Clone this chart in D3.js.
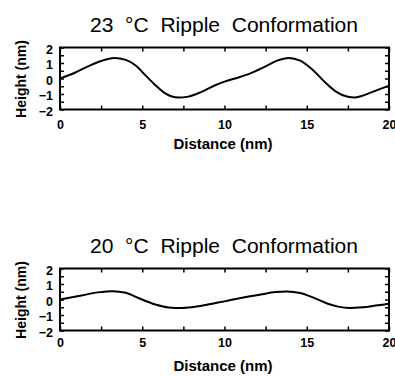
<!DOCTYPE html>
<html>
<head>
<meta charset="utf-8">
<script src="https://cdn.jsdelivr.net/npm/d3@7"></script>
<style>
  html, body { margin: 0; padding: 0; background: #fff; }
  svg { display: block; }
</style>
</head>
<body>
<svg id="chart" width="395" height="376"></svg>
<script>
// ---- data ----
const titles = ["23  °C  Ripple  Conformation", "20  °C  Ripple  Conformation"];
const xLabel = "Distance (nm)";
const yLabel = "Height (nm)";
const xTickLabels = [0, 5, 10, 15, 20];
const yTickLabels = [-2, -1, 0, 1, 2];

const distance23 = [0, 0.9, 1.7, 2.5, 3.3, 4.0, 4.6, 5.2, 5.8, 6.4, 7.2, 7.8, 8.6, 9.4, 10.0, 10.7, 11.5, 12.4, 13.2, 13.9, 14.6, 15.4, 16.2, 16.8, 17.5, 17.9, 18.3, 19.0, 19.6, 20.0];
const height23   = [0, 0.37, 0.78, 1.13, 1.32, 1.2, 0.84, 0.2, -0.43, -0.96, -1.23, -1.17, -0.86, -0.45, -0.2, 0.02, 0.3, 0.73, 1.15, 1.32, 1.15, 0.52, -0.33, -0.86, -1.18, -1.22, -1.14, -0.86, -0.62, -0.47];

const distance20 = [0, 1.3, 2.3, 3.2, 4.0, 4.8, 5.8, 6.6, 7.4, 8.4, 9.4, 10.0, 10.9, 12.2, 13.1, 13.8, 14.6, 15.4, 16.2, 16.9, 17.6, 18.4, 19.2, 20.0];
const height20   = [0, 0.26, 0.46, 0.54, 0.44, 0.08, -0.32, -0.51, -0.55, -0.44, -0.24, -0.12, 0.08, 0.32, 0.48, 0.52, 0.42, 0.12, -0.24, -0.46, -0.55, -0.5, -0.39, -0.28];

// ---- layout ----
const panels = [
  { title: titles[0], xs: distance23, ys: height23, top: 47.5, bottom: 109.5, titleY: 31.5, tickPad: 10.5, xLabY: 149, yLabY: 79 },
  { title: titles[1], xs: distance20, ys: height20, top: 268.5, bottom: 330.5, titleY: 253, tickPad: 7.5, xLabY: 371, yLabY: 300 }
];
const left = 60, right = 389;

const svg = d3.select("#chart");
const x = d3.scaleLinear().domain([0, 20]).range([left, right]);
const xTicks = d3.range(0, 20.01, 2.5);
const yTicks = d3.range(-2, 2.01, 0.5);
const boldFont = "'Liberation Sans', Arial, sans-serif";

panels.forEach(p => {
  const y = d3.scaleLinear().domain([-2, 2]).range([p.bottom, p.top]);
  const g = svg.append("g");

  // title
  g.append("text")
    .attr("x", (left + right) / 2 - 0.5)
    .attr("y", p.titleY)
    .attr("text-anchor", "middle")
    .attr("xml:space", "preserve")
    .style("white-space", "pre")
    .attr("textLength", 268)
    .attr("lengthAdjust", "spacingAndGlyphs")
    .attr("font-family", "'Liberation Sans', Arial, sans-serif")
    .attr("font-size", 20)
    .attr("fill", "#000")
    .text(p.title);

  // axes
  const fmtX = d => xTickLabels.includes(d) ? d : "";
  const fmtY = d => yTickLabels.includes(d) ? (d < 0 ? "\u2212" + Math.abs(d) : d) : "";

  const axB = g.append("g").attr("transform", `translate(0,${p.bottom})`)
    .call(d3.axisBottom(x).tickValues(xTicks).tickSize(-4).tickPadding(p.tickPad).tickFormat(fmtX));
  const axT = g.append("g").attr("transform", `translate(0,${p.top})`)
    .call(d3.axisTop(x).tickValues(xTicks).tickSize(-4).tickFormat(""));
  const axL = g.append("g").attr("transform", `translate(${left},0)`)
    .call(d3.axisLeft(y).tickValues(yTicks).tickSize(-4).tickPadding(7).tickFormat(fmtY));
  const axR = g.append("g").attr("transform", `translate(${right},0)`)
    .call(d3.axisRight(y).tickValues(yTicks).tickSize(-4).tickFormat(""));

  [axB, axT, axL, axR].forEach(a => {
    a.select(".domain").remove();
    a.selectAll(".tick line").attr("stroke", "#000").attr("stroke-width", 1.5);
    a.selectAll(".tick text")
      .attr("font-family", boldFont)
      .attr("font-weight", "bold")
      .attr("font-size", 12.5)
      .attr("fill", "#000");
  });
  axL.selectAll(".tick text").attr("dy", "0.45em");

  // frame
  g.append("rect")
    .attr("x", left).attr("y", p.top)
    .attr("width", right - left).attr("height", p.bottom - p.top)
    .attr("fill", "none").attr("stroke", "#000").attr("stroke-width", 2);

  // curve
  const pts = p.xs.map((d, i) => [d, p.ys[i]]);
  g.append("path")
    .datum(pts)
    .attr("fill", "none")
    .attr("stroke", "#000")
    .attr("stroke-width", 2)
    .attr("d", d3.line().x(d => x(d[0])).y(d => y(d[1])).curve(d3.curveMonotoneX));

  // x label
  g.append("text")
    .attr("x", 223).attr("y", p.xLabY)
    .attr("text-anchor", "middle")
    .attr("font-family", boldFont)
    .attr("font-weight", "bold")
    .attr("font-size", 15)
    .attr("fill", "#000")
    .text(xLabel);

  // y label
  g.append("text")
    .attr("transform", `translate(26,${p.yLabY}) rotate(-90)`)
    .attr("text-anchor", "middle")
    .attr("font-family", boldFont)
    .attr("font-weight", "bold")
    .attr("font-size", 14)
    .attr("fill", "#000")
    .text(yLabel);
});
</script>
</body>
</html>
